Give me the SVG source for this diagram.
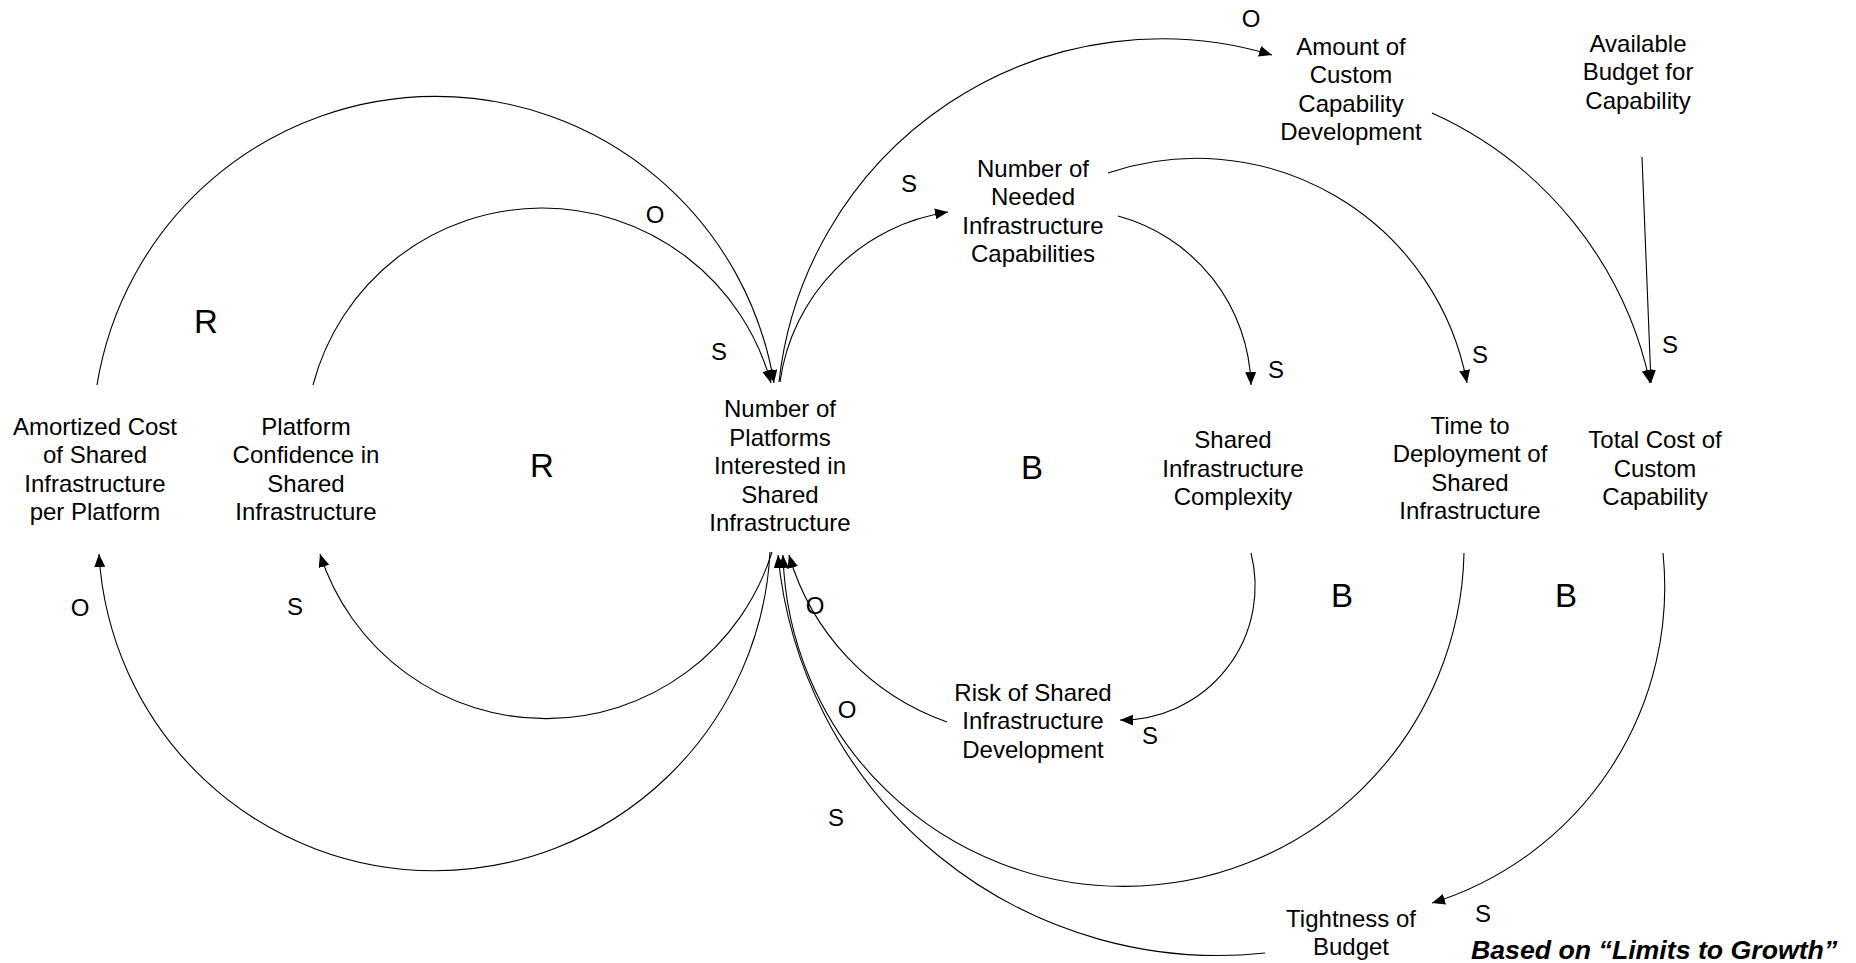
<svg xmlns="http://www.w3.org/2000/svg" width="1856" height="963" viewBox="0 0 1856 963">
<style>
  text { font-family: "Liberation Sans", Arial, sans-serif; fill: #000; }
  .n { font-size: 24px; text-anchor: middle; }
  .pol { font-size: 24px; text-anchor: middle; }
  .loop { font-size: 33px; text-anchor: middle; }
  .note { font-size: 26.7px; font-weight: bold; font-style: italic; }
  .c { fill: none; stroke: #000; stroke-width: 1.1; marker-end: url(#ah); }
  .c0 { fill: none; stroke: #000; stroke-width: 1.1; }
</style>
<defs>
  <marker id="ah" markerUnits="userSpaceOnUse" markerWidth="14" markerHeight="12" refX="13" refY="5.5" orient="auto">
    <path d="M0,0 L13,5.5 L0,11 z" fill="#000"/>
  </marker>
</defs>
<rect width="1856" height="963" fill="#fff"/>

<g id="connectors">
  <!-- Amortized -> Number of Platforms (O) -->
  <path class="c" d="M97,385 A343,343 0 0,1 774,383"/>
  <!-- Confidence -> Number of Platforms (S) -->
  <path class="c" d="M313,385 A237,237 0 0,1 771,383"/>
  <!-- Number of Platforms -> Amortized (O) -->
  <path class="c" d="M770,552 A336,336 0 0,1 99,554"/>
  <!-- Number of Platforms -> Confidence (S) -->
  <path class="c" d="M772,552 A237,237 0 0,1 320,554"/>
  <!-- Number of Platforms -> Needed (S) -->
  <path class="c" d="M780,382 A199.5,199.5 0 0,1 948,212"/>
  <!-- Number of Platforms -> Custom (O) -->
  <path class="c" d="M779,382 A385,385 0 0,1 1272,55"/>
  <!-- Needed -> Complexity (S) -->
  <path class="c" d="M1118,216 A180,180 0 0,1 1251,385"/>
  <!-- Needed -> Time to Deployment (S) -->
  <path class="c" d="M1108,173 A275,275 0 0,1 1467,383"/>
  <!-- Custom -> Total Cost (S) -->
  <path class="c" d="M1432,113 A384,384 0 0,1 1650,383"/>
  <!-- Available Budget -> Total Cost (S) -->
  <path class="c" d="M1642,157 L1651,383"/>
  <!-- Complexity -> Risk (S) -->
  <path class="c" d="M1251,553 A134,134 0 0,1 1120,720"/>
  <!-- Risk -> Number of Platforms (O) -->
  <path class="c" d="M947,722 A251,251 0 0,1 789,555"/>
  <!-- Time to Deployment -> Number of Platforms (O) -->
  <path class="c" d="M1464,553 A340.6,340.6 0 0,1 783,555"/>
  <!-- Total Cost -> Tightness (S) -->
  <path class="c" d="M1663,553 A331,331 0 0,1 1432,903"/>
  <!-- Tightness -> Number of Platforms (S) -->
  <path class="c" d="M1265,953 A442,442 0 0,1 778,555"/>
</g>

<g id="polarities">
  <text class="pol" x="1251" y="27">O</text>
  <text class="pol" x="909" y="192">S</text>
  <text class="pol" x="655" y="223">O</text>
  <text class="pol" x="719" y="360">S</text>
  <text class="pol" x="1276" y="378">S</text>
  <text class="pol" x="1480" y="363">S</text>
  <text class="pol" x="1670" y="353">S</text>
  <text class="pol" x="80" y="616">O</text>
  <text class="pol" x="295" y="615">S</text>
  <text class="pol" x="815" y="614">O</text>
  <text class="pol" x="847" y="718">O</text>
  <text class="pol" x="836" y="826">S</text>
  <text class="pol" x="1150" y="744">S</text>
  <text class="pol" x="1483" y="922">S</text>
</g>

<g id="loops">
  <text class="loop" x="206" y="333">R</text>
  <text class="loop" x="542" y="477">R</text>
  <text class="loop" x="1032" y="479">B</text>
  <text class="loop" x="1342" y="607">B</text>
  <text class="loop" x="1566" y="607">B</text>
</g>

<g id="node-amortized">
  <text class="n" x="95" y="435">Amortized Cost<tspan x="95" dy="28.3">of Shared</tspan><tspan x="95" dy="28.3">Infrastructure</tspan><tspan x="95" dy="28.3">per Platform</tspan></text>
</g>
<g id="node-confidence">
  <text class="n" x="306" y="435">Platform<tspan x="306" dy="28.3">Confidence in</tspan><tspan x="306" dy="28.3">Shared</tspan><tspan x="306" dy="28.3">Infrastructure</tspan></text>
</g>
<g id="node-platforms">
  <text class="n" x="780" y="417">Number of<tspan x="780" dy="28.5">Platforms</tspan><tspan x="780" dy="28.5">Interested in</tspan><tspan x="780" dy="28.5">Shared</tspan><tspan x="780" dy="28.5">Infrastructure</tspan></text>
</g>
<g id="node-needed">
  <text class="n" x="1033" y="177">Number of<tspan x="1033" dy="28.3">Needed</tspan><tspan x="1033" dy="28.3">Infrastructure</tspan><tspan x="1033" dy="28.3">Capabilities</tspan></text>
</g>
<g id="node-custom">
  <text class="n" x="1351" y="55">Amount of<tspan x="1351" dy="28.3">Custom</tspan><tspan x="1351" dy="28.3">Capability</tspan><tspan x="1351" dy="28.3">Development</tspan></text>
</g>
<g id="node-budget">
  <text class="n" x="1638" y="52">Available<tspan x="1638" dy="28.3">Budget for</tspan><tspan x="1638" dy="28.3">Capability</tspan></text>
</g>
<g id="node-complexity">
  <text class="n" x="1233" y="448">Shared<tspan x="1233" dy="28.5">Infrastructure</tspan><tspan x="1233" dy="28.5">Complexity</tspan></text>
</g>
<g id="node-deployment">
  <text class="n" x="1470" y="434">Time to<tspan x="1470" dy="28.3">Deployment of</tspan><tspan x="1470" dy="28.3">Shared</tspan><tspan x="1470" dy="28.3">Infrastructure</tspan></text>
</g>
<g id="node-totalcost">
  <text class="n" x="1655" y="448">Total Cost of<tspan x="1655" dy="28.5">Custom</tspan><tspan x="1655" dy="28.5">Capability</tspan></text>
</g>
<g id="node-risk">
  <text class="n" x="1033" y="701">Risk of Shared<tspan x="1033" dy="28.3">Infrastructure</tspan><tspan x="1033" dy="28.3">Development</tspan></text>
</g>
<g id="node-tightness">
  <text class="n" x="1351" y="927">Tightness of<tspan x="1351" dy="28.3">Budget</tspan></text>
</g>
<g id="note">
  <text class="note" x="1471" y="959">Based on “Limits to Growth”</text>
</g>
</svg>
